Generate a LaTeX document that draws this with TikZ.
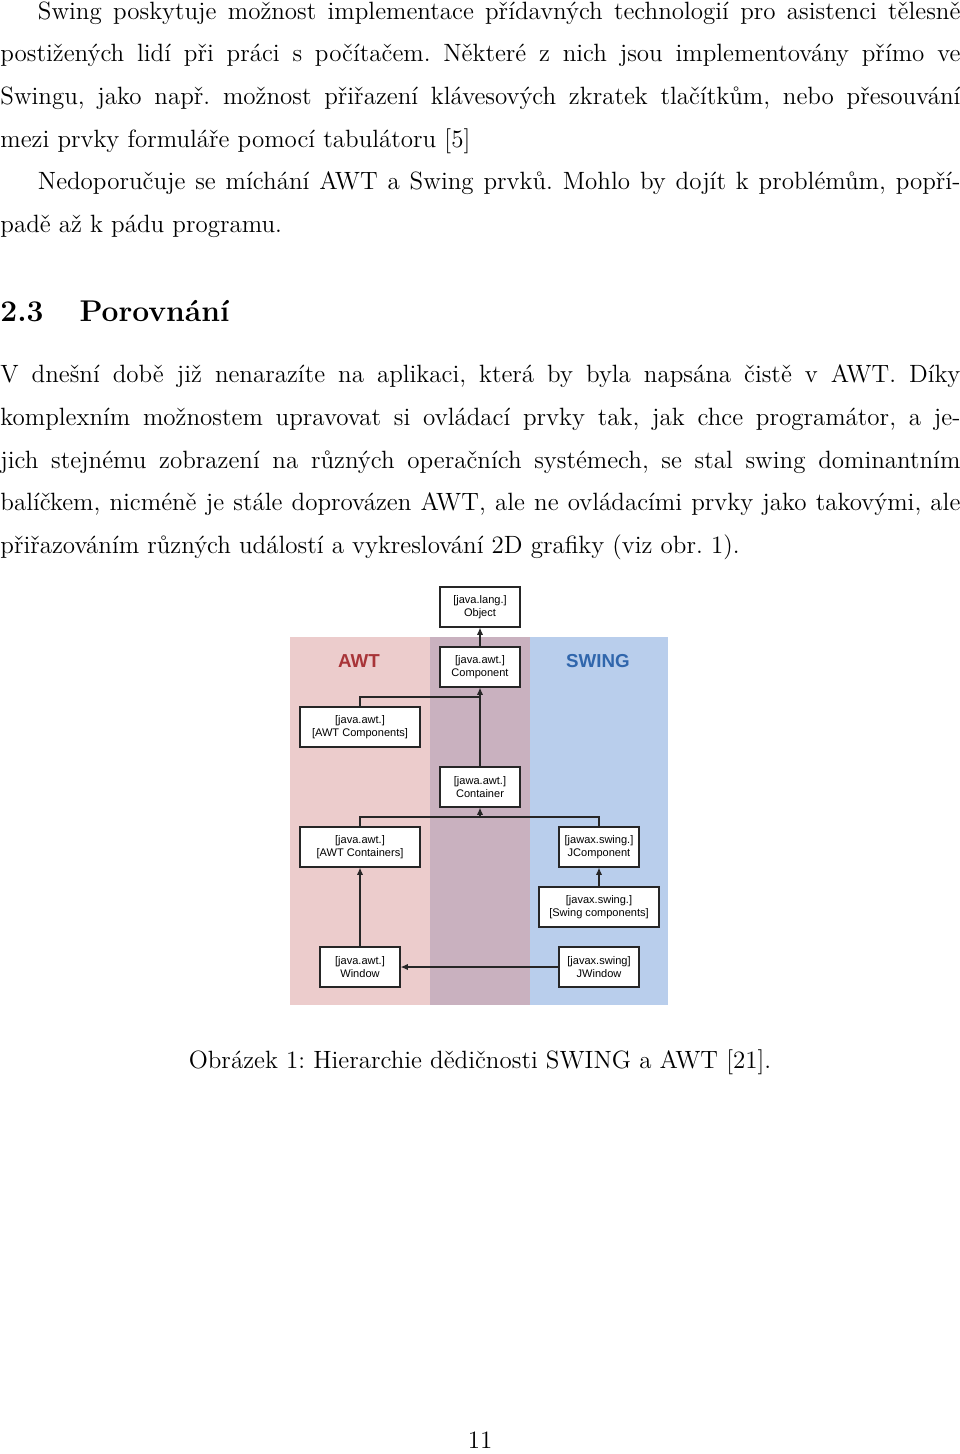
\documentclass[tikz,border=0pt]{standalone}
\usepackage{fontspec}
\newfontfamily\boxfont{Liberation Sans}
\usetikzlibrary{arrows.meta}
\frenchspacing

\definecolor{awtbg}{RGB}{236,204,204}
\definecolor{midbg}{RGB}{201,177,191}
\definecolor{swingbg}{RGB}{185,206,236}
\definecolor{awtred}{RGB}{168,52,56}
\definecolor{swingblue}{RGB}{48,102,172}

\tikzset{
  radek/.style={anchor=base west,inner sep=0pt,font=\fontsize{12}{14.5}\selectfont},
  trida/.style={draw=black!85,fill=white,line width=0.65pt,minimum width=38.4pt,
    minimum height=19.2pt,inner sep=0pt,align=center,
    font=\boxfont\fontsize{5.3}{6.2}\selectfont},
  siroka/.style={trida,minimum width=57.6pt},
  balik/.style={font=\boxfont\bfseries\fontsize{9}{10}\selectfont},
  hrana/.style={draw=black!85,line width=0.5pt}
}
\newcommand{\plny}[1]{\makebox[460.8pt][s]{#1}}
\newcommand{\odsaz}[1]{\makebox[442.8pt][s]{#1}}

\begin{document}
\begin{tikzpicture}[x=0.48pt,y=-0.48pt,>={Latex[length=3.4pt,width=3pt]}]
\useasboundingbox (0,0) rectangle (960,1454);

% text before the figure
\node[radek] (p1r1) at (37.5,19) {\odsaz{Swing poskytuje možnost implementace přídavných technologií pro asistenci tělesně}};
\node[radek] (p1r2) at (0,61.7) {\plny{postižených lidí při práci s počítačem. Některé z nich jsou implementovány přímo ve}};
\node[radek] (p1r3) at (0,104.4) {\plny{Swingu, jako např. možnost přiřazení klávesových zkratek tlačítkům, nebo přesouvání}};
\node[radek] (p1r4) at (0,147.1) {mezi prvky formuláře pomocí tabulátoru [5]};
\node[radek] (p1r5) at (37.5,189.8) {\odsaz{Nedoporučuje se míchání AWT a Swing prvků. Mohlo by dojít k problémům, popří-}};
\node[radek] (p1r6) at (0,232.5) {padě až k pádu programu.};

\node[radek,font=\fontsize{14.4}{18}\selectfont\bfseries] (nadpis) at (0,321.7) {2.3\hspace{1.2em}Porovnání};

\node[radek] (p2r1) at (0,382.7) {\plny{V dnešní době již nenarazíte na aplikaci, která by byla napsána čistě v AWT. Díky}};
\node[radek] (p2r2) at (0,425.4) {\plny{komplexním možnostem upravovat si ovládací prvky tak, jak chce programátor, a je-}};
\node[radek] (p2r3) at (0,468.1) {\plny{jich stejnému zobrazení na různých operačních systémech, se stal swing dominantním}};
\node[radek] (p2r4) at (0,510.8) {\plny{balíčkem, nicméně je stále doprovázen AWT, ale ne ovládacími prvky jako takovými, ale}};
\node[radek] (p2r5) at (0,553.5) {přiřazováním různých událostí a vykreslování 2D grafiky (viz obr. 1).};

% figure
\fill[awtbg] (290,637) rectangle (430,1005);
\fill[midbg] (430,637) rectangle (530,1005);
\fill[swingbg] (530,637) rectangle (668,1005);
\node[balik,text=awtred] (lawt) at (359,661) {AWT};
\node[balik,text=swingblue] (lswing) at (598,661) {SWING};

\node[trida] (obj) at (480,607) {[java.lang.]\\Object};
\node[trida] (comp) at (480,667) {[java.awt.]\\Component};
\node[siroka] (awtcomp) at (360,727) {[java.awt.]\\{}[AWT Components]};
\node[trida] (cont) at (480,787) {[jawa.awt.]\\Container};
\node[siroka] (awtcont) at (360,847) {[java.awt.]\\{}[AWT Containers]};
\node[trida] (jcomp) at (599,847) {[jawax.swing.]\\JComponent};
\node[siroka] (swcomp) at (599,907) {[javax.swing.]\\{}[Swing components]};
\node[trida] (win) at (360,967) {[java.awt.]\\Window};
\node[trida] (jwin) at (599,967) {[javax.swing]\\JWindow};

\coordinate (j1) at (480,697);
\coordinate (j2) at (480,817);
\draw[hrana,->] (comp) -- (obj);
\draw[hrana,->] (cont) -- (comp);
\draw[hrana] (awtcomp.north) |- (j1);
\draw[hrana] (awtcont.north) |- (j2) -| (jcomp.north);
\draw[hrana,->] (j2) -- (cont.south);
\draw[hrana,->] (swcomp) -- (jcomp);
\draw[hrana,->] (win) -- (awtcont);
\draw[hrana,->] (jwin) -- (win);

\node[anchor=base,inner sep=0pt,font=\fontsize{12}{14.5}\selectfont] (popisek) at (480,1068.3) {Obrázek 1: Hierarchie dědičnosti SWING a AWT [21].};
\node[anchor=base,inner sep=0pt,font=\fontsize{12}{14.5}\selectfont] (strana) at (480,1448) {11};
\end{tikzpicture}
\end{document}
